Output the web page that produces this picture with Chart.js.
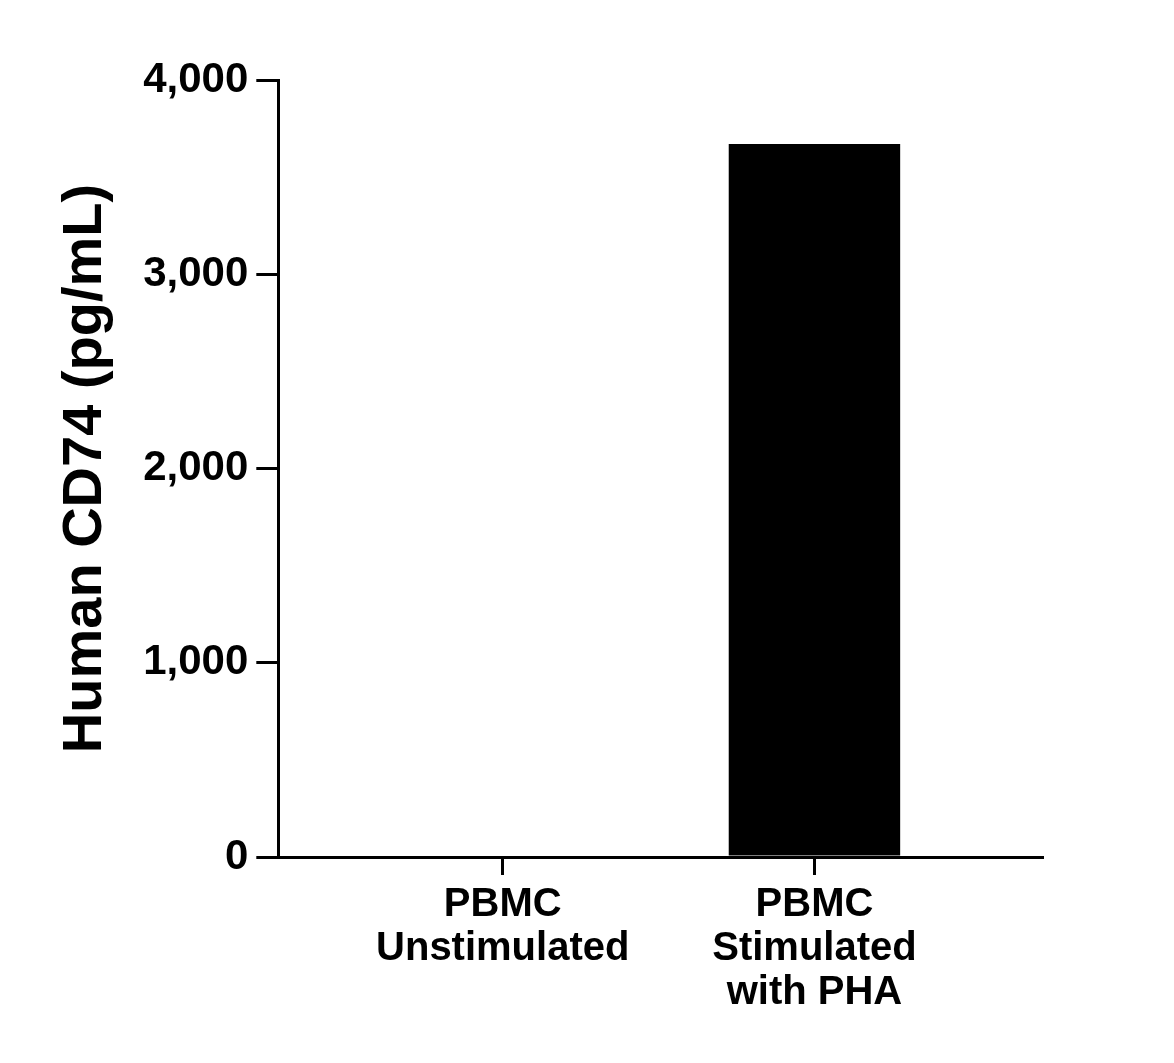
<!DOCTYPE html>
<html>
<head>
<meta charset="utf-8">
<script src="https://cdn.jsdelivr.net/npm/chart.js@4"></script>
<style>
  body { margin: 0; background: #fff; }
</style>
</head>
<body>
<canvas id="cd74Chart" width="1174" height="1063"></canvas>
<script>
const categorias = [['PBMC', 'Unstimulated'], ['PBMC', 'Stimulated', 'with PHA']];
const valores = [0, 3670];
const yTicks = [0, 1000, 2000, 3000, 4000];

const ctx = document.getElementById('cd74Chart').getContext('2d');
const fonte = 'Liberation Sans, Arial, sans-serif';

new Chart(ctx, {
  type: 'bar',
  data: {
    datasets: [{
      data: valores.map((v, i) => ({ x: i, y: v })),
      backgroundColor: '#000',
      barPercentage: 0.55,
      categoryPercentage: 1
    }]
  },
  options: {
    responsive: false,
    animation: false,
    layout: { padding: { top: 80, right: 132, bottom: 40, left: 48 } },
    plugins: { legend: { display: false }, tooltip: { enabled: false } },
    scales: {
      x: {
        type: 'linear',
        offset: false,
        min: -0.72,
        max: 1.73,
        afterBuildTicks: s => { s.ticks = categorias.map((c, i) => ({ value: i })); },
        ticks: {
          callback: v => categorias[v],
          color: '#000',
          font: { family: fonte, size: 40, weight: 'bold', lineHeight: 1.1 },
          padding: 8,
          maxRotation: 0
        },
        grid: { offset: false, drawOnChartArea: false, drawTicks: true, tickLength: 18, color: '#000', lineWidth: 3 },
        border: { color: '#000', width: 3 }
      },
      y: {
        min: 0,
        max: 4000,
        afterBuildTicks: s => { s.ticks = yTicks.map(v => ({ value: v })); },
        ticks: {
          callback: v => v.toLocaleString('en-US'),
          color: '#000',
          font: { family: fonte, size: 42, weight: 'bold' },
          padding: 8
        },
        grid: { drawOnChartArea: false, drawTicks: true, tickLength: 22, color: '#000', lineWidth: 3 },
        border: { color: '#000', width: 3 },
        title: {
          display: true,
          text: 'Human CD74 (pg/mL)',
          color: '#000',
          font: { family: fonte, size: 56, weight: 'bold' },
          padding: { bottom: 16 }
        }
      }
    }
  }
});
</script>
</body>
</html>
